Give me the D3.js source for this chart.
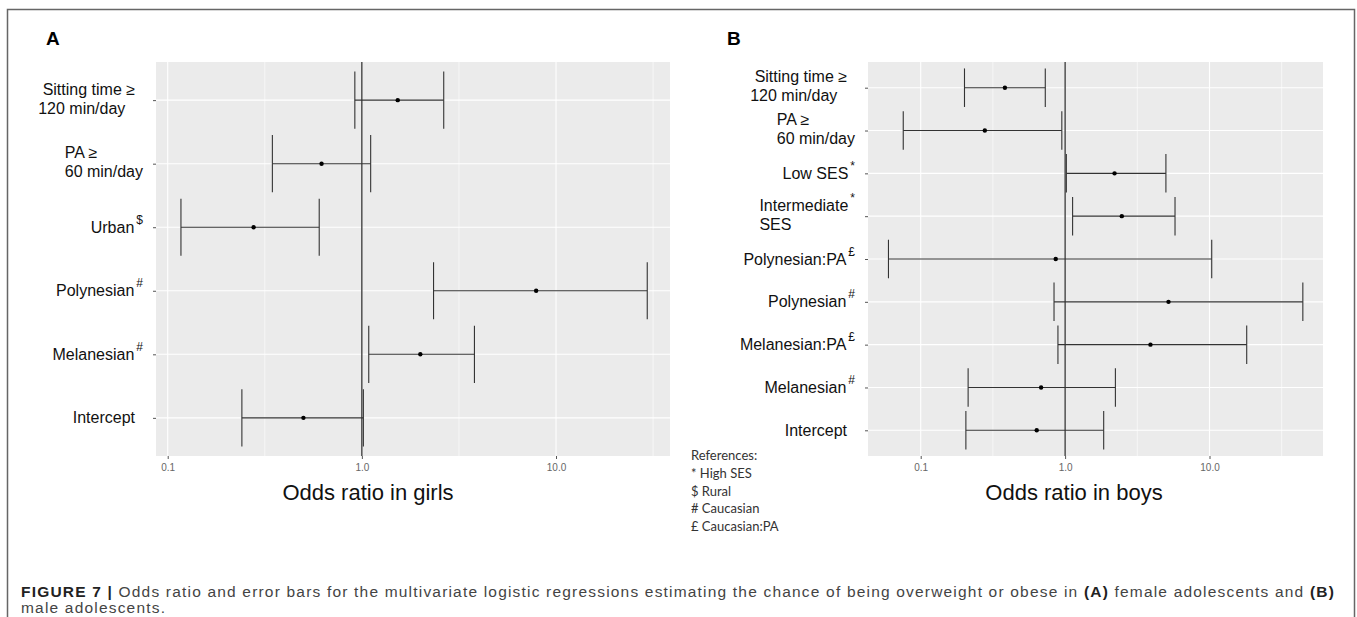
<!DOCTYPE html>
<html><head><meta charset="utf-8">
<script src="https://cdn.jsdelivr.net/npm/d3@7/dist/d3.min.js"></script>
<style>body{margin:0;background:#fff}svg{display:block}text{white-space:pre}</style>
</head><body>
<svg id="c" width="1357" height="617"></svg>
<script>
// ---------- DATA ----------
// Panel A (girls), listed top to bottom
const girlsCats = ["sit", "pa", "urban", "poly", "mela", "intercept"];
const girlsLines = [["\u00a0Sitting time \u2265", "120 min/day"], ["PA \u2265", "60 min/day"], ["Urban"], ["Polynesian"], ["Melanesian"], ["Intercept"]];
const girlsSup = ["", "", "$", "#", "#", ""];
const girlsOR = [1.53, 0.62, 0.277, 7.9, 2.0, 0.50];
const girlsLo = [0.92, 0.346, 0.117, 2.34, 1.085, 0.241];
const girlsHi = [2.64, 1.11, 0.603, 29.5, 3.8, 1.018];

// Panel B (boys), listed top to bottom
const boysCats = ["sit", "pa", "low", "inter", "polypa", "poly", "melapa", "mela", "intercept"];
const boysLines = [["\u00a0Sitting time \u2265", "120 min/day"], ["PA \u2265", "60 min/day"], ["Low SES"], ["Intermediate", "SES"], ["Polynesian:PA"], ["Polynesian"], ["Melanesian:PA"], ["Melanesian"], ["Intercept"]];
const boysSup = ["", "", "*", "*", "\u00a3", "#", "\u00a3", "#", ""];
const boysOR = [0.383, 0.278, 2.2, 2.47, 0.861, 5.2, 3.9, 0.682, 0.636];
const boysLo = [0.201, 0.0757, 1.02, 1.127, 0.0598, 0.838, 0.892, 0.213, 0.2055];
const boysHi = [0.729, 0.949, 4.99, 5.77, 10.36, 44.3, 18.1, 2.23, 1.85];

const xTicks = [0.1, 1, 10];
const xTickLabels = ["0.1", "1.0", "10.0"];
const minorTicks = [Math.pow(10, -1.5), Math.pow(10, -0.5), Math.pow(10, 0.5), Math.pow(10, 1.5)];
const refLines = ["References:", "* High SES", "$ Rural", "# Caucasian", "\u00a3 Caucasian:PA"];

// ---------- DRAW ----------
const svg = d3.select("#c");
svg.append("rect").attr("x", 7.5).attr("y", 9.5).attr("width", 1347).attr("height", 640)
  .attr("fill", "none").attr("stroke", "#666").attr("stroke-width", 1.5);

const LABEL_FONT = "'Liberation Sans', Arial, sans-serif";

function panel(opt) {
  const {cats, lines, sups, or, lo, hi, left, right, top, bottom, domain, tag, tagX, title, titleX} = opt;
  const g = svg.append("g");
  const x = d3.scaleLog().domain(domain).range([left, right]);
  const y = d3.scalePoint().domain(cats).range([top, bottom]).padding(0.6);
  const step = y.step();

  g.append("rect").attr("x", left).attr("y", top).attr("width", right - left).attr("height", bottom - top).attr("fill", "#EBEBEB");
  g.selectAll(".mg").data(minorTicks.filter(v => v > domain[0] && v < domain[1])).join("line")
    .attr("x1", d => x(d)).attr("x2", d => x(d)).attr("y1", top).attr("y2", bottom)
    .attr("stroke", "#fff").attr("stroke-width", 0.6);
  g.selectAll(".vg").data(xTicks).join("line")
    .attr("x1", d => x(d)).attr("x2", d => x(d)).attr("y1", top).attr("y2", bottom)
    .attr("stroke", "#fff").attr("stroke-width", 1.1);
  g.selectAll(".hg").data(cats).join("line")
    .attr("x1", left).attr("x2", right).attr("y1", d => y(d)).attr("y2", d => y(d))
    .attr("stroke", "#fff").attr("stroke-width", 1.1);

  const xa = d3.axisBottom(x).tickValues(xTicks).tickFormat((d, i) => xTickLabels[i]).tickSize(3).tickPadding(5);
  const gx = g.append("g").attr("transform", `translate(0,${bottom})`).call(xa);
  gx.select(".domain").remove();
  gx.selectAll(".tick line").attr("stroke", "#555");
  gx.selectAll(".tick text").attr("fill", "#666").attr("font-size", 10).attr("font-family", LABEL_FONT);
  const ya = d3.axisLeft(y).tickSize(3).tickFormat("");
  const gy = g.append("g").attr("transform", `translate(${left},0)`).call(ya);
  gy.select(".domain").remove();
  gy.selectAll(".tick line").attr("stroke", "#555");

  g.append("line").attr("x1", x(1)).attr("x2", x(1)).attr("y1", top).attr("y2", bottom)
    .attr("stroke", "#111").attr("stroke-width", 1.1);

  const half = step * 0.45;
  cats.forEach((c, i) => {
    const yy = y(c);
    g.append("line").attr("x1", x(lo[i])).attr("x2", x(hi[i])).attr("y1", yy).attr("y2", yy).attr("stroke", "#333").attr("stroke-width", 1.1);
    g.append("line").attr("x1", x(lo[i])).attr("x2", x(lo[i])).attr("y1", yy - half).attr("y2", yy + half).attr("stroke", "#333").attr("stroke-width", 1.1);
    g.append("line").attr("x1", x(hi[i])).attr("x2", x(hi[i])).attr("y1", yy - half).attr("y2", yy + half).attr("stroke", "#333").attr("stroke-width", 1.1);
    g.append("circle").attr("cx", x(or[i])).attr("cy", yy).attr("r", 2.2).attr("fill", "#000");
  });

  const blockRight = left - 13;
  cats.forEach((c, i) => {
    const yy = y(c);
    const ls = lines[i];
    const tg = g.append("g");
    const texts = ls.map((s, k) => {
      const base = ls.length > 1 ? (k === 0 ? yy - 5.5 : yy + 13.5) : yy + 5.5;
      return tg.append("text").attr("y", base).attr("font-family", LABEL_FONT).attr("font-size", 16).attr("fill", "#111").text(s);
    });
    let sup = null;
    if (sups[i]) {
      sup = tg.append("text").attr("font-family", LABEL_FONT).attr("font-size", 12).attr("fill", "#111").text(sups[i]);
    }
    const widths = texts.map(t => t.node().getComputedTextLength());
    const supW = sup ? sup.node().getComputedTextLength() + 2 : 8;
    const w0 = widths[0] + supW;
    const blockW = Math.max(w0, ...widths.slice(1));
    const startX = blockRight - blockW;
    texts.forEach(t => t.attr("x", startX));
    if (sup) {
      const base = ls.length > 1 ? yy - 5.5 : yy + 5.5;
      sup.attr("x", startX + widths[0] + 2).attr("y", base - 9);
    }
  });

  svg.append("text").attr("x", tagX).attr("y", 45).attr("font-family", LABEL_FONT).attr("font-weight", "bold").attr("font-size", 19).attr("fill", "#000").text(tag);
  svg.append("text").attr("x", titleX).attr("y", 500).attr("text-anchor", "middle").attr("font-family", LABEL_FONT).attr("font-size", 22).attr("fill", "#111").text(title);
}

panel({cats: girlsCats, lines: girlsLines, sups: girlsSup, or: girlsOR, lo: girlsLo, hi: girlsHi,
  left: 156, right: 670, top: 62, bottom: 456, domain: [Math.pow(10, -1.0603), Math.pow(10, 1.587)],
  tag: "A", tagX: 46, title: "Odds ratio in girls", titleX: 368});
panel({cats: boysCats, lines: boysLines, sups: boysSup, or: boysOR, lo: boysLo, hi: boysHi,
  left: 868, right: 1323, top: 62, bottom: 456, domain: [Math.pow(10, -1.365), Math.pow(10, 1.786)],
  tag: "B", tagX: 727, title: "Odds ratio in boys", titleX: 1074});

svg.append("g").selectAll("text").data(refLines).join("text")
  .attr("x", 691).attr("y", (d, i) => 460 + i * 17.8)
  .attr("font-family", "Lato, 'Open Sans', sans-serif").attr("font-size", 13).attr("fill", "#333").text(d => d);

// caption: lightly letter-spaced so line 1 spans the figure width
const CAP_FONT = "'Liberation Sans', Arial, sans-serif";
const cap = svg.append("text").attr("x", 21).attr("y", 597).attr("font-family", CAP_FONT).attr("font-size", 15.5).attr("fill", "#444");
cap.append("tspan").attr("font-weight", "bold").attr("fill", "#222").text("FIGURE 7 | ");
cap.append("tspan").text("Odds ratio and error bars for the multivariate logistic regressions estimating the chance of being overweight or obese in ");
cap.append("tspan").attr("font-weight", "bold").attr("fill", "#222").text("(A)");
cap.append("tspan").text(" female adolescents and ");
cap.append("tspan").attr("font-weight", "bold").attr("fill", "#222").text("(B)");
const cap2 = svg.append("text").attr("x", 21).attr("y", 613).attr("font-family", CAP_FONT).attr("font-size", 15.5).attr("fill", "#444").text("male adolescents.");
const w = cap.node().getComputedTextLength();
const nChars = cap.text().length;
const ls = Math.max(0, (1314 - w) / nChars);
cap.attr("letter-spacing", ls);
cap2.attr("letter-spacing", ls);
</script>
</body></html>
